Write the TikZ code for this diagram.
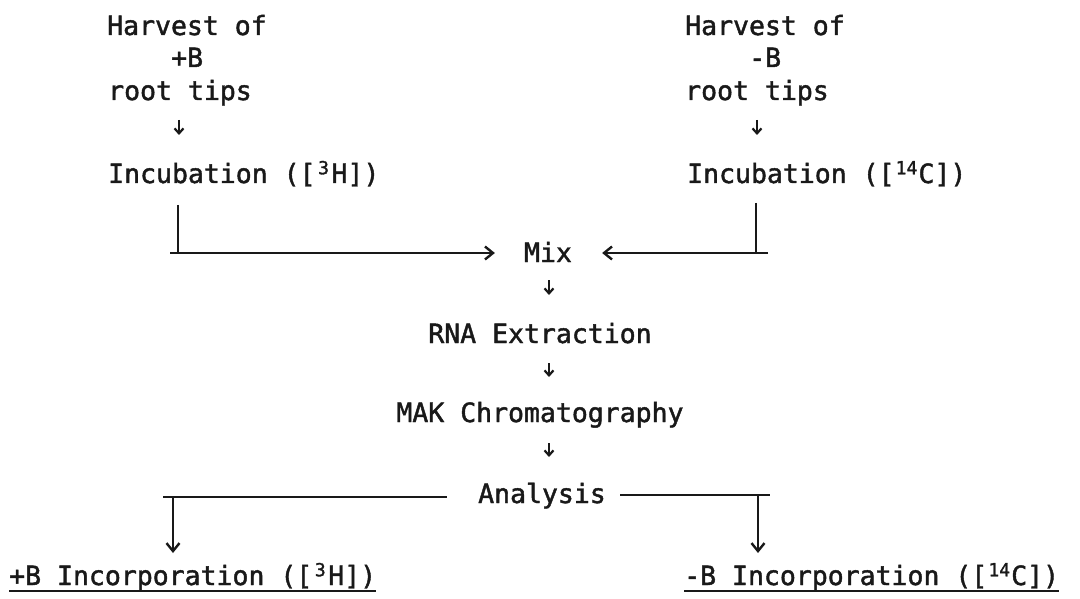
\documentclass[tikz,border=0pt]{standalone}
\usepackage{fontspec}
\setmonofont[FakeBold=1.6]{DejaVu Sans Mono}
\usetikzlibrary{arrows.meta}
\newcommand\upd[2]{\makebox[#1em][c]{\raisebox{0.33em}{\fontsize{18pt}{18pt}\selectfont #2}}}
\begin{document}
\begin{tikzpicture}[x=1pt,y=-1pt,
  txt/.style={font=\ttfamily\fontsize{26.5pt}{30pt}\selectfont, inner sep=0pt, text=black!90},
  line/.style={line width=2.4pt, black!90},
  arr/.style={line width=2.4pt, black!90, -{Straight Barb[length=8pt,width=13pt]}},
  smallarr/.style={line width=2.2pt, black!90, -{Straight Barb[length=5pt,width=9pt]}},
  uline/.style={line width=2.2pt, black!90}]
\useasboundingbox (0,0) rectangle (1080,599);
% left column
\node[txt, anchor=base west] (hL) at (107,35) {Harvest of};
\node[txt, anchor=base west] (bL) at (171,67) {+B};
\node[txt, anchor=base west] (rL) at (108,100) {root tips};
\node[txt, anchor=base west] (iL) at (108,183) {Incubation ([\upd{0.602}{3}H])};
% right column
\node[txt, anchor=base west] (hR) at (685,35) {Harvest of};
\node[txt, anchor=base west] (bR) at (749,67) {-B};
\node[txt, anchor=base west] (rR) at (685,100) {root tips};
\node[txt, anchor=base west] (iR) at (687,183) {Incubation ([\upd{0.9}{14}C])};
% middle
\node[txt, anchor=base] (mix) at (548,262) {Mix};
\node[txt, anchor=base] (rna) at (540,343) {RNA Extraction};
\node[txt, anchor=base] (mak) at (540,422) {MAK Chromatography};
\node[txt, anchor=base] (ana) at (542,503) {Analysis};
% bottom
\node[txt, anchor=base west] (oL) at (9,585) {+B Incorporation ([\upd{0.602}{3}H])};
\node[txt, anchor=base west] (oR) at (684,585) {-B Incorporation ([\upd{0.9}{14}C])};
% column x coordinates
\coordinate (xL) at (179,0);
\coordinate (xR) at (757,0);
\coordinate (xM) at (549,0);
% small arrows
\draw[smallarr, shorten <=20pt, shorten >=48pt] (rL.base -| xL) -- (iL.base -| xL);
\draw[smallarr, shorten <=20pt, shorten >=48pt] (rR.base -| xR) -- (iR.base -| xR);
\draw[smallarr, shorten <=18pt, shorten >=48pt] (mix.base -| xM) -- (rna.base -| xM);
\draw[smallarr, shorten <=20pt, shorten >=45pt] (rna.base -| xM) -- (mak.base -| xM);
\draw[smallarr, shorten <=21pt, shorten >=46pt] (mak.base -| xM) -- (ana.base -| xM);
% top bars to Mix
\coordinate (cLv) at (178,253);
\coordinate (cLo) at (170,253);
\coordinate (cRv) at (756,253);
\coordinate (cRo) at (768,253);
\draw[line, shorten <=22pt] (iL.base -| cLv) -- (cLv);
\draw[arr, shorten >=29pt] (cLo) -- (cLo -| mix.west);
\draw[line, shorten <=20pt] (iR.base -| cRv) -- (cRv);
\draw[arr, shorten >=30pt] (cRo) -- (cRo -| mix.east);
% bottom split from Analysis
\coordinate (cBL) at (173,497);
\coordinate (cBLo) at (163,497);
\coordinate (cBR) at (758,495);
\coordinate (cBRo) at (770,495);
\draw[line, shorten <=31pt] (cBL -| ana.west) -- (cBLo);
\draw[arr, shorten >=32pt] (cBL) -- (oL.base -| cBL);
\draw[line, shorten <=14pt] (cBR -| ana.east) -- (cBRo);
\draw[arr, shorten >=32pt] (cBR) -- (oR.base -| cBR);
% underlines
\draw[uline] (oL.south west) -- (oL.south east);
\draw[uline] (oR.south west) -- (oR.south east);
\end{tikzpicture}
\end{document}
